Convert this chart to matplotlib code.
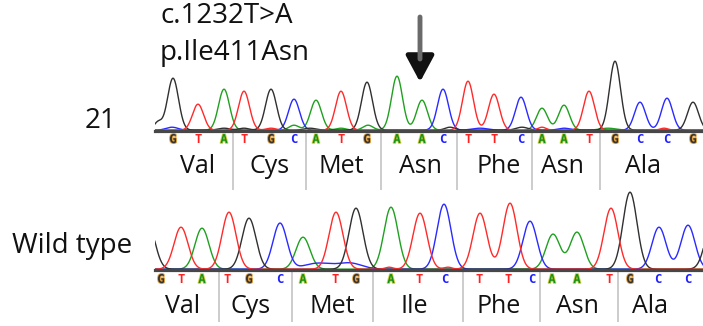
import numpy as np
import matplotlib
matplotlib.use("Agg")
import matplotlib.pyplot as plt
import matplotlib.patheffects as pe

# ---------------- data ----------------
# Mutant (patient 21) trace: base calls, peak positions (scan units) and peak heights
top_bases = list("GTATGCATGAACTTCAATGCCG")
top_pos = [173, 198, 224, 244, 271, 294, 316, 341, 367, 397, 422, 443,
           468, 494, 521, 542, 564, 589, 615, 640, 667, 693]
top_heights = [52, 26, 41, 39, 41, 31, 30, 39, 48, 54, 30, 41,
               49, 36, 33, 22, 25, 39, 69, 28, 32, 28]
top_codons = ["Val", "Cys", "Met", "Asn", "Phe", "Asn", "Ala"]
top_codon_x = [198, 270, 341, 420, 499, 562, 643]
top_separators = [233, 306, 381, 457, 532, 600]
# minor background signal: (channel, position, height, width)
top_minor = [("C", 172, 3, 6), ("G", 224, 2, 6), ("G", 244, 2, 5), ("T", 271, 2, 5),
             ("A", 294, 5, 5), ("G", 310, 2, 6), ("A", 341, 2, 5), ("A", 368, 5, 5),
             ("G", 450, 3, 5), ("C", 480, 2, 8), ("G", 522, 3, 6), ("T", 542, 3, 4),
             ("C", 564, 2, 6), ("A", 608, 2, 8), ("T", 664, 2, 4), ("G", 158, 8, 4)]

# Wild type trace
bot_bases = list("GTATGCATGATCTTCAATGCC")
bot_call_pos = [161, 181, 202, 227, 249, 280, 303, 335, 356, 391, 419, 445,
                479, 508, 532, 552, 577, 609, 630, 658, 688]
bot_peak_bases = list("GTATGCATGATCTTCAATGCCG")
bot_peak_pos = [148, 181, 202, 229, 249, 280, 303, 336, 356, 391, 420, 444,
                480, 510, 530, 553, 577, 611, 630, 659, 688, 712]
bot_heights = [45, 42, 41, 57, 51, 46, 32, 57, 61, 62, 56, 65,
               56, 66, 48, 35, 37, 61, 77, 42, 44, 45]
bot_codons = ["Val", "Cys", "Met", "Ile", "Phe", "Asn", "Ala"]
bot_codon_x = [183, 251, 332, 414, 499, 577, 650]
bot_separators = [219, 292, 373, 463, 540, 618]
bot_minor = [("C", 318, 6, 14), ("C", 350, 6, 12), ("T", 389, 2, 4), ("T", 448, 2, 4)]

label_top = ["c.1232T>A", "p.Ile411Asn"]
sample_labels = ["21", "Wild type"]

# ---------------- style ----------------
W, H = 703, 326
colors = {"A": "#20a020", "C": "#2a2aff", "G": "#303030", "T": "#ff2a2a"}
letter_style = {
    "A": dict(color="#15901a", pe=[pe.withStroke(linewidth=1.3, foreground="#d8d040")]),
    "C": dict(color="#2020ff", pe=None),
    "G": dict(color="#333333", pe=[pe.withStroke(linewidth=1.3, foreground="#e0a040")]),
    "T": dict(color="#ff2020", pe=None),
}
FONT = ["Open Sans", "DejaVu Sans"]

fig = plt.figure(figsize=(W / 100, H / 100), dpi=100)


def px_axes(x0, y0, x1, y1):
    """axes whose rectangle is given in pixel coordinates (origin top-left)"""
    return fig.add_axes([x0 / W, 1 - y1 / H, (x1 - x0) / W, (y1 - y0) / H])


def draw_panel(ax, bases_peaks, pos_peaks, heights, sigma, minor,
               calls, call_pos, codons, codon_x, seps, sep_len, letter_y, codon_y):
    x = np.linspace(130, 730, 3000)
    for ch in "ACGT":
        y = np.zeros_like(x)
        for b, p, h in zip(bases_peaks, pos_peaks, heights):
            if b == ch:
                y += h * np.exp(-0.5 * ((x - p) / sigma) ** 2)
        for c, p, h, s in minor:
            if c == ch:
                y += h * np.exp(-0.5 * ((x - p) / s) ** 2)
        ax.plot(x, y + 0.8, color=colors[ch], lw=1.0, zorder=2)
    ax.axhline(0, color="#474747", lw=2.3, zorder=3, clip_on=False)
    ax.set_xlim(155, 703)
    for b, p in zip(calls, call_pos):
        st = letter_style[b]
        ax.text(p, letter_y, b, ha="center", va="center", fontsize=8.8,
                fontweight="bold", family="DejaVu Sans Mono", color=st["color"],
                path_effects=st["pe"], clip_on=False, zorder=4)
    ax.vlines(seps, -sep_len, -1.5, color="#c4c4c4", lw=1.2, clip_on=False, zorder=1)
    for name, cx in zip(codons, codon_x):
        ax.text(cx, codon_y, name, ha="center", va="baseline", fontsize=18,
                family=FONT, color="#111111", clip_on=False)
    ax.axis("off")


# top panel: baseline at pixel row 131
ax1 = px_axes(155, 40, 703, 131)
ax1.set_ylim(0, 91)
draw_panel(ax1, top_bases, top_pos, top_heights, 5.5, top_minor,
           top_bases, top_pos, top_codons, top_codon_x, top_separators, 59, -8.5, -42)

# bottom panel: baseline at pixel row 270
ax2 = px_axes(155, 180, 703, 270)
ax2.set_ylim(0, 90)
draw_panel(ax2, bot_peak_bases, bot_peak_pos, bot_heights, 7.0, bot_minor,
           bot_bases, bot_call_pos, bot_codons, bot_codon_x, bot_separators, 52, -9.5, -43)

# mutation arrow (above the 'A' call at position 422)
ax1.annotate("", xy=(420, 49), xytext=(420, 75),
             arrowprops=dict(arrowstyle="-|>,head_length=0.8,head_width=0.43",
                             mutation_scale=20, color="#111111", lw=3.5,
                             shrinkA=0, shrinkB=0), annotation_clip=False)
ax1.annotate("", xy=(420, 72), xytext=(420, 114),
             arrowprops=dict(arrowstyle="-", color="#6a6a6a", lw=3.5,
                             shrinkA=0, shrinkB=0), annotation_clip=False)

# texts
fig.text(160 / W, 1 - 23 / H, label_top[0], fontsize=20, family=FONT,
         ha="left", va="baseline", color="#111111")
fig.text(160 / W, 1 - 60 / H, label_top[1], fontsize=20, family=FONT,
         ha="left", va="baseline", color="#111111")
fig.text(101 / W, 1 - 128 / H, sample_labels[0], fontsize=20, family=FONT,
         ha="center", va="baseline", color="#111111")
fig.text(12 / W, 1 - 253 / H, sample_labels[1], fontsize=20, family=FONT,
         ha="left", va="baseline", color="#111111")

fig.savefig("out.png", dpi=100, facecolor="white")
